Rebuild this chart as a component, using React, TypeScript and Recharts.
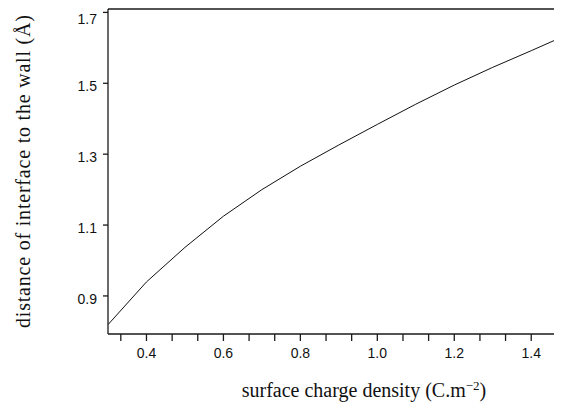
import React from "react";
import { LineChart, Line, XAxis, YAxis, ReferenceLine } from "recharts";

// surface charge density (C.m^-2)
const chargeDensity = [0.3, 0.4, 0.5, 0.6, 0.7, 0.8, 0.9, 1.0, 1.1, 1.2, 1.3, 1.4, 1.5];
// distance of interface to the wall (Å)
const interfaceDistance = [0.819, 0.9395, 1.037, 1.125, 1.2, 1.266, 1.326, 1.384, 1.441, 1.495, 1.545, 1.592, 1.64];

const xTicks = [0.3333, 0.4, 0.4667, 0.5333, 0.6, 0.6667, 0.7333, 0.8, 0.8667, 0.9333, 1.0, 1.0667, 1.1333, 1.2, 1.2667, 1.3333, 1.4, 1.4667];
const xTickLabels = ["0.4", "0.6", "0.8", "1.0", "1.2", "1.4"];
const yTicks = [0.9, 1.1, 1.3, 1.5, 1.7];

const data = chargeDensity.map((x, i) => ({ x, y: interfaceDistance[i] }));

const X_MIN = 0.3;
const X_MAX = 1.48;
const Y_MIN = 0.7926;
const Y_MAX = 1.7096;

const axisColor = "#1a1a1a";
const tickFont = { fontSize: 14, fill: "#111", fontFamily: "'Liberation Sans', Arial, sans-serif" };
const serif = "'Liberation Serif', 'DejaVu Serif', serif";

export default function App() {
  const fmtX = (v: number) => {
    const s = v.toFixed(1);
    return xTickLabels.includes(s) && Math.abs(v - parseFloat(s)) < 0.001 ? s : "";
  };

  return (
    <div style={{ width: 554, height: 395, overflow: "hidden", position: "relative" }}>
      <LineChart width={554} height={395} data={data} margin={{ top: 1, right: 0, bottom: 0, left: 40 }}>
        <XAxis
          dataKey="x"
          type="number"
          domain={[X_MIN, X_MAX]}
          allowDataOverflow
          ticks={xTicks}
          tickFormatter={fmtX}
          interval={0}
          tick={tickFont}
          tickSize={7}
          tickMargin={7}
          stroke={axisColor}
          strokeWidth={1.3}
          height={69}
          label={{
            content: () => (
              <text x={356} y={389} textAnchor="middle" fontFamily={serif} fontSize={20} fill="#111">
                surface charge density (C.m
                <tspan dy={-7} fontSize={13}>−2</tspan>
                <tspan dy={7}>)</tspan>
              </text>
            ),
          }}
        />
        <YAxis
          dataKey="y"
          type="number"
          domain={[Y_MIN, Y_MAX]}
          allowDataOverflow
          ticks={yTicks}
          tickFormatter={(v: number) => v.toFixed(1)}
          tick={{ ...tickFont, dy: 3 }}
          tickSize={5}
          tickMargin={6}
          stroke={axisColor}
          strokeWidth={1.3}
          width={60}
          label={{
            content: () => (
              <text
                x={22}
                y={163.5}
                textAnchor="middle"
                transform="rotate(-90 22 163.5)"
                fontFamily={serif}
                fontSize={20}
                textLength={313}
                lengthAdjust="spacing"
                fill="#111"
              >
                distance of interface to the wall (Å)
              </text>
            ),
          }}
        />
        <ReferenceLine y={Y_MAX} stroke={axisColor} strokeWidth={1.3} ifOverflow="extendDomain" />
        <Line
          type="linear"
          dataKey="y"
          stroke="#111"
          strokeWidth={1}
          dot={false}
          isAnimationActive={false}
        />
      </LineChart>
    </div>
  );
}
